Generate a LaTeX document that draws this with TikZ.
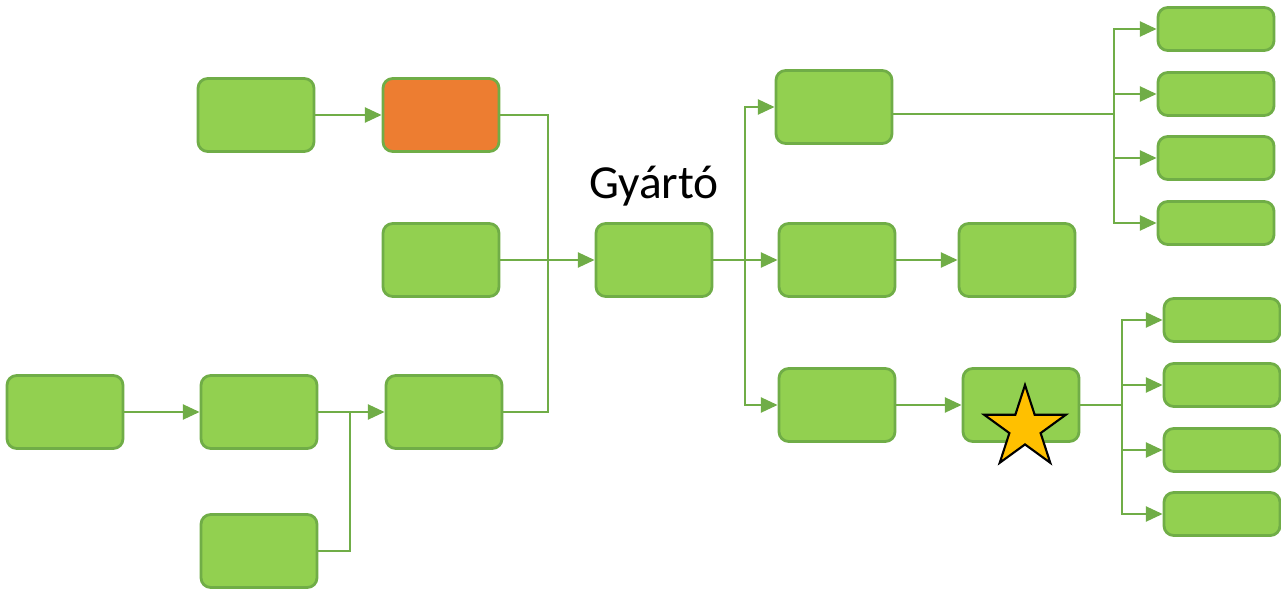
\documentclass[tikz,border=0pt]{standalone}
\usepackage{fontspec}
\setmainfont{Carlito}
\usetikzlibrary{shapes.geometric,arrows.meta}
\definecolor{boxgreen}{HTML}{92D050}
\definecolor{edgegreen}{HTML}{70AD47}
\definecolor{boxorange}{HTML}{ED7D31}
\definecolor{stargold}{HTML}{FFC000}

\begin{document}
\begin{tikzpicture}[x=0.02cm,y=-0.02cm,
box/.style={rectangle, rounded corners=5.5pt, draw=edgegreen, fill=boxgreen, line width=1.6pt, minimum width=2.32cm, minimum height=1.46cm, inner sep=0pt},
leaf/.style={box, minimum width=2.32cm, minimum height=0.86cm},
line/.style={draw=edgegreen, line width=1.35pt},
arr/.style={line, -{Triangle[length=9.5pt,width=8.5pt]}}
]
    \useasboundingbox (0,0) rectangle (1281,591);

    % left side
    \node [box] (a0) at (65,412) {};
    \node [box] (b1) at (256,115) {};
    \node [box,fill=boxorange] (b2) at (441,115) {};
    \node [box] (c2) at (441,260) {};
    \node [box] (d1) at (259,412) {};
    \node [box] (d2) at (444,412) {};
    \node [box] (e1) at (259,551) {};

    % maker
    \node [box] (maker) at (654,260) {};
    \node [font=\fontsize{27}{31}\selectfont] (makerlbl) at (654,186) {Gyártó};

    % right side
    \node [box] (r1) at (834,107) {};
    \node [box] (r2) at (837,260) {};
    \node [box] (r3) at (837,405) {};
    \node [box] (s2) at (1017,260) {};
    \node [box] (s3) at (1021,405) {};
    \node [star, star points=5, star point ratio=2.618, minimum size=1.72cm, inner sep=0pt,
           draw=black, line width=1.2pt, fill=stargold] (mark) at (1025,428) {};

    \node [leaf] (t1) at (1216,29) {};
    \node [leaf] (t2) at (1216,94) {};
    \node [leaf] (t3) at (1216,158) {};
    \node [leaf] (t4) at (1216,223) {};

    \node [leaf] (u1) at (1222,320) {};
    \node [leaf] (u2) at (1222,385) {};
    \node [leaf] (u3) at (1222,450) {};
    \node [leaf] (u4) at (1222,514) {};

    % junctions
    \coordinate (jin) at (548,260);
    \coordinate (jlow) at (350,412);
    \coordinate (jout) at (745,260);
    \coordinate (jtop) at (1114,114);
    \coordinate (jbot) at (1122,405);

    % left connectors
    \draw [arr] (a0) -- (d1);
    \draw [arr] (b1) -- (b2);
    \draw [arr] (d1) -- (d2);
    \draw [line] (e1.east) -| (jlow);
    \draw [line] (b2.east) -| (jin);
    \draw [line] (d2.east) -| (jin);
    \draw [arr] (c2.east) -- (maker.west);

    % right connectors
    \draw [line] (maker.east) -- (jout);
    \draw [arr] (jout) |- (r1.west);
    \draw [arr] (jout) -- (r2.west);
    \draw [arr] (jout) |- (r3.west);
    \draw [arr] (r2) -- (s2);
    \draw [arr] (r3) -- (s3);

    \draw [line] (r1.east |- jtop) -- (jtop);
    \foreach \t in {t1,t2,t3,t4}
        \draw [arr] (jtop) |- (\t.west);

    \draw [line] (s3.east) -- (jbot);
    \foreach \u in {u1,u2,u3,u4}
        \draw [arr] (jbot) |- (\u.west);
\end{tikzpicture}
\end{document}
